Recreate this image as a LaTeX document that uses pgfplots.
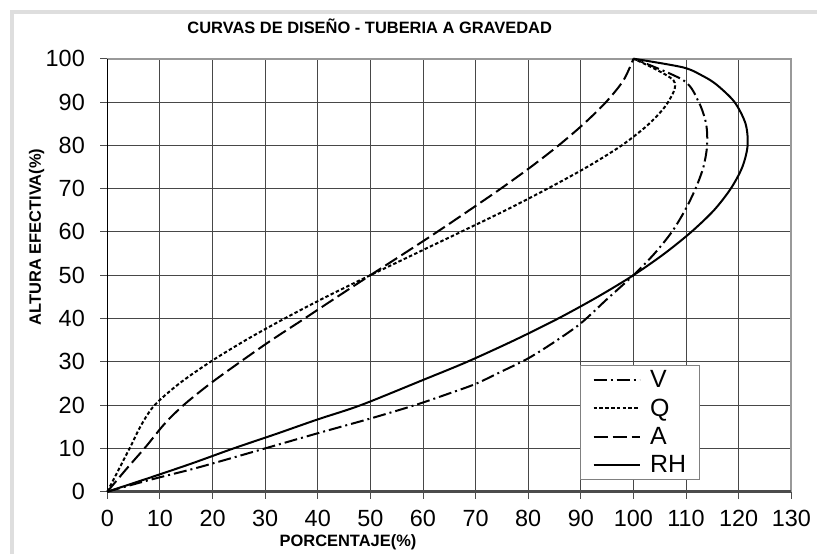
\documentclass[border=0pt]{standalone}
\usepackage{fontspec}
\setmainfont{Liberation Sans}
\usepackage{pgfplots}
\pgfplotsset{compat=1.18}
\usepackage{pgfplotstable}

% h/D (%) against percentage of full section
\pgfplotstableread{
x y
0 0
8 2.7
16.4 5.3
24 7.9
30 10
40 13.5
50 16.9
58.5 20
65 22.7
70 24.9
75 27.8
80 30.8
85 34.6
90 38.9
95 44.5
100 50
104 55
107.3 60
109.8 65
111.8 70
113.3 75
114 80
113.8 85
112.4 90
109.5 95
100 100
}\tblV

\pgfplotstableread{
x y
0 0
2.2 5.2
4.4 10.4
6.5 15.5
9 20
13.7 25
19.6 30
26.3 35
33.7 40
41.6 45
50 50
58.6 55
67.2 60
75.7 65
83.7 70
91.2 75
97.8 80
103 85
106.6 90
107.6 95
100 100
}\tblQ

\pgfplotstableread{
x y
0 0
3.6 5.2
7.4 10.5
10.9 15.7
14.5 20
19.6 25
25.3 30
31.2 35
37.5 40
43.7 45
50 50
56.4 55
62.7 60
68.8 65
74.8 70
80.5 75
85.8 80
90.6 85
94.8 90
98.1 95
100 100
}\tblA

\pgfplotstableread{
x y
0 0
8 3.2
16 6.5
24 10
32 13.3
40 16.7
48.2 20
60 25.8
68.4 30
77.4 35
85.7 40
93.2 45
100 50
105.9 55
111 60
115.3 65
118.5 70
120.7 75
121.7 80
121.3 85
119.2 90
115.8 94
113.2 96
109.4 98
100 100
}\tblRH

\begin{document}
\begin{tikzpicture}
\path[use as bounding box] (-107.3bp,-62.3bp) rectangle (709.7bp,491.7bp);
\draw[black!13, line width=4bp] (-95.3bp,-62.3bp) -- (-95.3bp,479.7bp) -- (709.7bp,479.7bp);
\begin{axis}[
  scale only axis, width=684bp, height=433bp,
  xmin=0, xmax=130, ymin=0, ymax=100,
  xtick={0,10,...,130}, ytick={0,10,...,100},
  grid=major, grid style={black!72, line width=0.9bp},
  axis line style={draw=none},
  tick pos=left, tick align=outside, major tick length=7bp,
  tick style={black!70, line width=0.9bp},
  ticklabel style={font=\fontsize{23.5}{23.5}\selectfont},
  xticklabel style={yshift=-8bp},
  yticklabel style={xshift=-12bp},
  /pgf/number format/assume math mode=true,
  clip=false,
  legend cell align=left,
  legend style={at={(0.8665,0.027)}, anchor=south east, draw=black!50,
    line width=0.8bp, fill=white, font=\fontsize{25}{25}\selectfont,
    row sep=6.5bp, inner xsep=12bp, inner ysep=4bp, nodes={inner sep=1.5bp},
    /tikz/every odd column/.append style={column sep=8bp}},
  legend image code/.code={\draw[#1] (0bp,0bp) -- (46bp,0bp);},
  every axis plot/.append style={line width=2bp, black},
]
\draw[black!40, line width=2.2bp] (rel axis cs:0,1) -- (rel axis cs:1,1) -- (rel axis cs:1,0);
\draw[black!70, line width=2.5bp] (rel axis cs:0,0) -- (rel axis cs:1,0);
\draw[black, line width=1.2bp] (rel axis cs:0,0) -- (rel axis cs:0,1);

\addplot[smooth, dash pattern=on 13bp off 4bp on 2bp off 4bp] table {\tblV};
\addplot[smooth, dash pattern=on 3.5bp off 2.3bp] table {\tblQ};
\addplot[smooth, dash pattern=on 14bp off 5bp] table {\tblA};
\addplot[smooth] table {\tblRH};
\legend{V, Q, A, RH}
\end{axis}
\node[font=\bfseries\fontsize{16.5}{16.5}\selectfont] at (262.4bp,465bp) {CURVAS DE DISEÑO - TUBERIA A GRAVEDAD};
\node[font=\bfseries\fontsize{16.5}{16.5}\selectfont, rotate=90] at (-70.6bp,254.7bp) {ALTURA EFECTIVA(\%)};
\node[font=\bfseries\fontsize{16.5}{16.5}\selectfont] at (240.7bp,-51bp) {PORCENTAJE(\%)};
\end{tikzpicture}
\end{document}
